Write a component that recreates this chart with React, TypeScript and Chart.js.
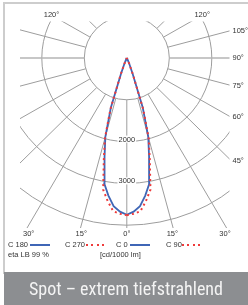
import React, { useEffect, useRef } from "react";
import { Chart, registerables } from "chart.js";

Chart.register(...registerables);

// polar angle (deg, from nadir) and luminous intensity [cd/1000 lm]
const angles = [0, 2.5, 5, 7.5, 10, 12.5, 15, 17.5, 20, 22.5, 25, 30, 40, 50, 60, 70, 80, 90];
const c0 = [3750, 3680, 3560, 3320, 3050, 2420, 1950, 1250, 400, 150, 60, 20, 0, 0, 0, 0, 0, 0];
const c180 = [3750, 3680, 3560, 3320, 3050, 2420, 1950, 1250, 400, 150, 60, 20, 0, 0, 0, 0, 0, 0];
const c90 = [3760, 3730, 3680, 3450, 3200, 2500, 1990, 1280, 410, 150, 60, 20, 0, 0, 0, 0, 0, 0];
const c270 = [3760, 3730, 3680, 3450, 3200, 2500, 1990, 1280, 410, 150, 60, 20, 0, 0, 0, 0, 0, 0];

const ringValues = [1000, 2000, 3000, 4000];
const ringLabelValues = [2000, 3000];
const spokeAngles = [-180, -165, -150, -135, -120, -105, -90, -75, -60, -45, -30, -15, 0, 15, 30, 45, 60, 75, 90, 105, 120, 135, 150, 165];
const rightLabelAngles = [45, 60, 75, 90, 105];
const bottomLabelAngles = [-30, -15, 0, 15, 30];
const topLabelAngles = [-120, 120];

const BLUE = "#3f66b6";
const RED = "#ee3b3b";
const GRID = "#9d9d9d";
const TEXT = "#333333";
const FONT = '"Liberation Sans", Arial, sans-serif';

const toXY = (vals: number[], side: number) =>
  angles.map((a, i) => {
    const t = (a * Math.PI) / 180;
    return { x: side * vals[i] * Math.sin(t), y: -vals[i] * Math.cos(t) };
  });

const polarGrid = {
  id: "polarGrid",
  beforeDatasetsDraw(chart: any) {
    const { ctx, chartArea: ar, scales } = chart;
    const xs = scales.x;
    const ys = scales.y;
    const P = (deg: number, r: number) => {
      const t = (deg * Math.PI) / 180;
      return [xs.getPixelForValue(r * Math.sin(t)), ys.getPixelForValue(-r * Math.cos(t))];
    };
    const cx = xs.getPixelForValue(0);
    const cy = ys.getPixelForValue(0);
    ctx.save();
    ctx.beginPath();
    ctx.rect(ar.left, ar.top, ar.right - ar.left, ar.bottom - ar.top);
    ctx.clip();
    ctx.strokeStyle = GRID;
    ctx.lineWidth = 1;
    for (const r of ringValues) {
      ctx.beginPath();
      ctx.ellipse(cx, cy, xs.getPixelForValue(r) - cx, cy - ys.getPixelForValue(r), 0, 0, Math.PI * 2);
      ctx.stroke();
    }
    for (const a of spokeAngles) {
      const [x1, y1] = P(a, ringValues[0]);
      const [x2, y2] = P(a, 9000);
      ctx.beginPath();
      ctx.lineWidth = Math.abs(a) === 90 ? 1.6 : 1;
      ctx.strokeStyle = Math.abs(a) === 90 ? "#b4b4b4" : GRID;
      ctx.moveTo(x1, y1);
      ctx.lineTo(x2, y2);
      ctx.stroke();
    }
    ctx.font = `7.5px ${FONT}`;
    ctx.textAlign = "center";
    ctx.textBaseline = "middle";
    for (const v of ringLabelValues) {
      const yy = ys.getPixelForValue(-v) - 2;
      const w = ctx.measureText(String(v)).width;
      ctx.fillStyle = "#ffffff";
      ctx.fillRect(cx - w / 2 - 1, yy - 4, w + 2, 7);
      ctx.fillStyle = TEXT;
      ctx.fillText(String(v), cx, yy);
    }
    ctx.restore();
  },
  afterDraw(chart: any) {
    const { ctx, chartArea: ar, scales } = chart;
    const xs = scales.x;
    const ys = scales.y;
    const cx = xs.getPixelForValue(0);
    const cy = ys.getPixelForValue(0);
    ctx.save();
    ctx.font = `7.5px ${FONT}`;
    ctx.fillStyle = TEXT;
    for (const a of rightLabelAngles) {
      const t = (a * Math.PI) / 180;
      const dx = Math.sin(t);
      const dy = Math.cos(t);
      const k = (ar.right - cx) / dx;
      ctx.textAlign = "left";
      ctx.textBaseline = "middle";
      ctx.fillText(`${a}°`, ar.right + 3, cy + k * dy);
    }
    for (const a of bottomLabelAngles) {
      const t = (a * Math.PI) / 180;
      const k = (ar.bottom - cy) / Math.cos(t);
      ctx.textAlign = "center";
      ctx.textBaseline = "top";
      ctx.fillText(`${Math.abs(a)}°`, cx + k * Math.sin(t), ar.bottom + 2);
    }
    for (const a of topLabelAngles) {
      const t = (a * Math.PI) / 180;
      const dx = Math.sin(t);
      const dy = Math.cos(t);
      const k = (ar.top - cy) / dy;
      ctx.textAlign = "center";
      ctx.textBaseline = "middle";
      ctx.fillText(`${Math.abs(a)}°`, cx + k * dx + dx * 14, ar.top - 7);
    }
    ctx.restore();
  },
};

export default function App() {
  const ref = useRef<HTMLCanvasElement | null>(null);
  useEffect(() => {
    if (!ref.current) return;
    const line = (label: string, data: any, color: string, dashed: boolean) => ({
      label,
      data,
      showLine: true,
      borderColor: color,
      backgroundColor: color,
      borderWidth: dashed ? 2 : 1.8,
      borderDash: dashed ? [2, 3.2] : [],
      pointRadius: 0,
      tension: 0,
      fill: false,
      order: dashed ? 0 : 1,
    });
    const chart = new Chart(ref.current, {
      type: "scatter",
      data: {
        datasets: [
          line("C 180", toXY(c180, -1), BLUE, false),
          line("C 0", toXY(c0, 1), BLUE, false),
          line("C 270", toXY(c270, -1), RED, true),
          line("C 90", toXY(c90, 1), RED, true),
        ],
      },
      options: {
        animation: false,
        responsive: false,
        devicePixelRatio: 1,
        layout: { padding: { left: 20, right: 18.5, top: 21.5, bottom: 44 } },
        scales: {
          x: { type: "linear", min: -2513, max: 2416, display: false },
          y: { type: "linear", min: -4067, max: 873, display: false },
        },
        plugins: { legend: { display: false }, tooltip: { enabled: false } },
      },
      plugins: [polarGrid],
    } as any);
    return () => chart.destroy();
  }, []);

  const txt = (s: string, left: number, top: number) => (
    <span
      style={{
        position: "absolute",
        left,
        top,
        font: `7.5px ${FONT}`,
        lineHeight: "8px",
        color: TEXT,
        whiteSpace: "nowrap",
      }}
    >
      {s}
    </span>
  );
  const solid = (left: number) => (
    <div style={{ position: "absolute", left, top: 243.5, width: 20, height: 2, background: BLUE }} />
  );
  const dots = (left: number) => (
    <div
      style={{
        position: "absolute",
        left,
        top: 243.5,
        width: 20,
        height: 2,
        background: `repeating-linear-gradient(to right, ${RED} 0 2px, transparent 2px 5.3px)`,
      }}
    />
  );

  return (
    <div style={{ position: "fixed", left: 0, top: 0, width: 248, height: 305, background: "#fff", overflow: "hidden" }}>
      <div style={{ position: "absolute", left: 3, top: 2, width: 245, height: 2, background: "#cdcdcd" }} />
      <div style={{ position: "absolute", left: 3, top: 2, width: 2, height: 272, background: "#cdcdcd" }} />
      <canvas ref={ref} width={248} height={272} style={{ position: "absolute", left: 0, top: 0 }} />
      {txt("C 180", 8, 241)}
      {solid(30)}
      {txt("C 270", 65, 241)}
      {dots(86)}
      {txt("C 0", 116, 241)}
      {solid(130)}
      {txt("C 90", 166, 241)}
      {dots(182)}
      {txt("eta LB 99 %", 8, 250.5)}
      {txt("[cd/1000 lm]", 100, 250.5)}
      <div
        style={{
          position: "absolute",
          left: 4,
          top: 272,
          width: 244,
          height: 33,
          background: "#8c8e91",
          color: "#f4f4f4",
          display: "flex",
          alignItems: "center",
          justifyContent: "center",
          font: '18px "Liberation Sans Narrow", "Arial Narrow", "Roboto Condensed", sans-serif',
          fontStretch: "condensed",
          whiteSpace: "nowrap",
        }}
      >
        Spot – extrem tiefstrahlend
      </div>
    </div>
  );
}
